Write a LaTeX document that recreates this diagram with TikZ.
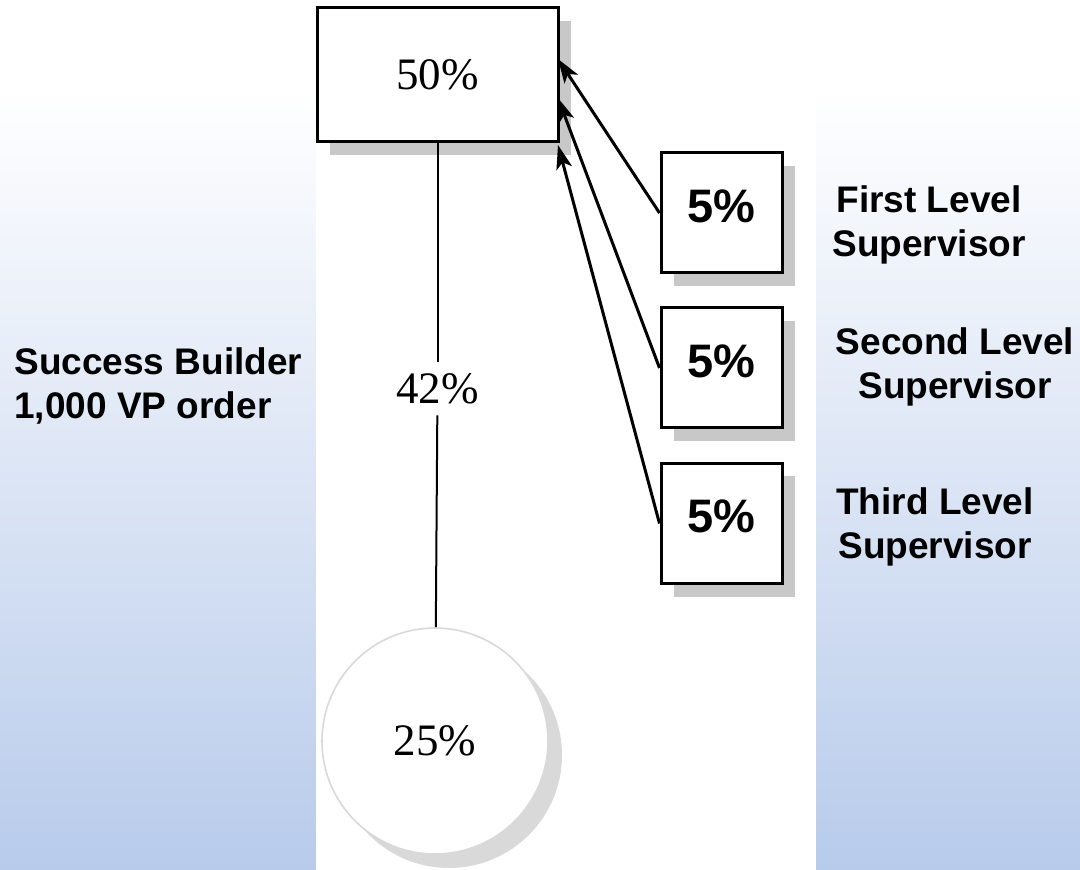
\documentclass[tikz,border=0pt]{standalone}
\usepackage{fontspec}
\setmainfont{Liberation Serif}
\newfontfamily\arialfont{Liberation Sans}
\usepackage{tikz}
\usetikzlibrary{arrows.meta, shadows}
\definecolor{bgblue}{RGB}{184,203,235}
\definecolor{shadowgray}{RGB}{200,200,200}
\pgfdeclareverticalshading{skyfade}{100bp}{color(0bp)=(bgblue); color(25bp)=(bgblue); color(70bp)=(white); color(100bp)=(white)}
\tikzset{
    sharebox/.style={draw, line width=1.5pt, fill=white, inner sep=0pt,
      drop shadow={shadow xshift=6.5pt, shadow yshift=-6.5pt, fill=shadowgray, opacity=1}},
    suplabel/.style={font=\arialfont\bfseries\fontsize{18.5}{22}\selectfont, align=center},
    payline/.style={line width=1.5pt, -{Stealth[length=12pt, width=8pt, inset=3pt]}}
}

\begin{document}
\begin{tikzpicture}[x=0.5pt, y=-0.5pt]
    \useasboundingbox (0,0) rectangle (1080,870);
    \shade[shading=skyfade] (0,0) rectangle (1080,870);
    \fill[white] (316,0) rectangle (816,870);

    \node[sharebox, minimum width=120.5pt, minimum height=67pt,
      font=\fontsize{22.5}{26}\selectfont] (top) at (437.5,75) {50\%};
    \node[circle, draw=black!15, line width=0.8pt, fill=white, minimum size=113pt,
      drop shadow={shadow xshift=7pt, shadow yshift=-7pt, fill=black!15, opacity=1},
      font=\fontsize{22.5}{26}\selectfont] (base) at (435,741) {25\%};
    \node[minimum height=26.5pt, inner sep=0pt, font=\fontsize{22.5}{26}\selectfont]
      (rate) at (437.5,388.5) {42\%};
    \draw[line width=1pt] (top) -- (rate);
    \draw[line width=1pt] (rate) -- (base);

    \foreach \i/\y/\lx/\ly/\lab/\tip in {1/213/929/225/First Level/59,
                                        2/368/955/367/Second Level/98,
                                        3/523.5/935/526.5/Third Level/145} {
      \node[sharebox, minimum width=60.5pt, minimum height=60pt, text depth=7pt,
        font=\arialfont\bfseries\fontsize{23.5}{28}\selectfont] (sup\i) at (721.5,\y) {5\%};
      \coordinate (in\i) at (558,\tip);
      \draw[payline] (sup\i.west) -- (in\i);
      \node[suplabel] (name\i) at (\lx,\ly) {\lab\\Supervisor};
    }

    \node[anchor=west, align=left, inner sep=0pt,
      font=\arialfont\bfseries\fontsize{18.5}{22}\selectfont]
      (order) at (14,386) {Success Builder\\1,000 VP order};
\end{tikzpicture}
\end{document}
